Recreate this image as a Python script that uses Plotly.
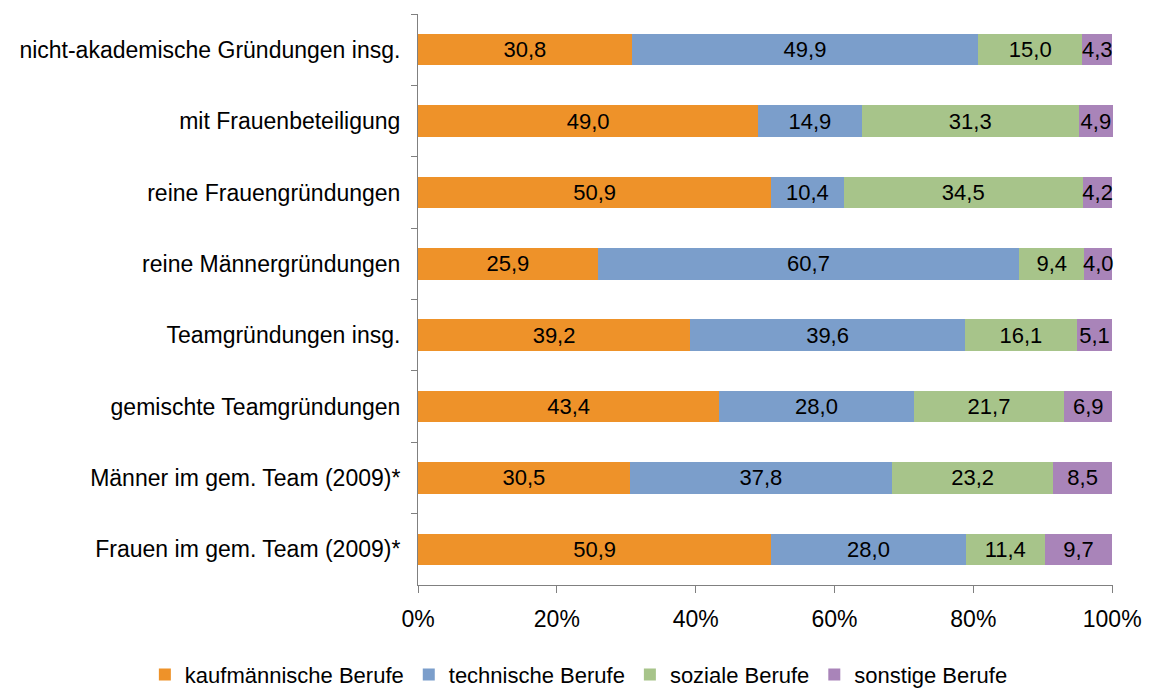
import plotly.graph_objects as go

categories = [
    "nicht-akademische Gründungen insg.",
    "mit Frauenbeteiligung",
    "reine Frauengründungen",
    "reine Männergründungen",
    "Teamgründungen insg.",
    "gemischte Teamgründungen",
    "Männer im gem. Team (2009)*",
    "Frauen im gem. Team (2009)*",
]
series_names = ["kaufmännische Berufe", "technische Berufe", "soziale Berufe", "sonstige Berufe"]
kaufmaennisch = [30.8, 49.0, 50.9, 25.9, 39.2, 43.4, 30.5, 50.9]
technisch = [49.9, 14.9, 10.4, 60.7, 39.6, 28.0, 37.8, 28.0]
sozial = [15.0, 31.3, 34.5, 9.4, 16.1, 21.7, 23.2, 11.4]
sonstige = [4.3, 4.9, 4.2, 4.0, 5.1, 6.9, 8.5, 9.7]
colors = ["#EE9229", "#7B9ECB", "#A7C48A", "#A984B9"]
x_ticks = [0, 20, 40, 60, 80, 100]
x_ticklabels = ["0%", "20%", "40%", "60%", "80%", "100%"]

FONT = "Liberation Sans, Arial, sans-serif"

fig = go.Figure()
for name, vals, col in zip(series_names, [kaufmaennisch, technisch, sozial, sonstige], colors):
    fig.add_trace(go.Bar(
        y=categories, x=vals, name=name, orientation="h",
        marker=dict(color=col, line=dict(width=0)),
        text=[f"{v:.1f}".replace(".", ",") for v in vals],
        textposition="inside", insidetextanchor="middle", textangle=0,
        constraintext="none",
        textfont=dict(family=FONT, size=22, color="#000000"),
        cliponaxis=False,
    ))

fig.update_layout(
    barmode="stack", bargap=0.56,
    width=1149, height=691,
    margin=dict(l=418, r=36, t=14, b=106, autoexpand=False),
    paper_bgcolor="white", plot_bgcolor="white",
    font=dict(family=FONT, size=22, color="#000000"),
    uniformtext=dict(mode="show", minsize=22),
    showlegend=True,
    legend=dict(orientation="h", x=-0.393, xanchor="left",
                y=-0.157, yanchor="middle",
                font=dict(size=22), traceorder="normal", itemwidth=30,
                tracegroupgap=0),
    xaxis=dict(range=[0, 100.12], tickvals=x_ticks, ticktext=x_ticklabels,
               showgrid=False, zeroline=False, showline=True, linecolor="#808080", linewidth=1,
               ticks="outside", ticklen=7, tickcolor="#808080", ticklabelstandoff=6,
               tickfont=dict(size=23)),
    yaxis=dict(autorange="reversed", showgrid=False, zeroline=False, showline=True,
               linecolor="#808080", linewidth=1, ticks="outside", tickson="boundaries",
               ticklen=6, tickcolor="#808080", ticklabelstandoff=12,
               tickfont=dict(size=23)),
)

fig.write_html("out.html")
